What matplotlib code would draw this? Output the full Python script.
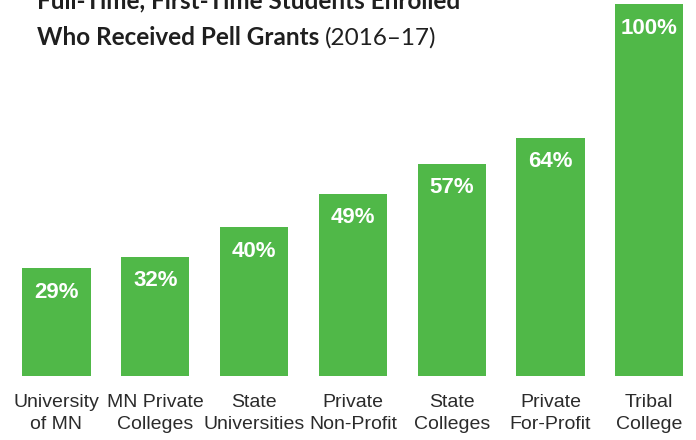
import matplotlib
matplotlib.use("Agg")
from matplotlib import pyplot as plt
import numpy as np

# Chart data
categories = ["University\nof MN", "MN Private\nColleges", "State\nUniversities",
              "Private\nNon-Profit", "State\nColleges", "Private\nFor-Profit",
              "Tribal\nCollege"]
pell_pct = [29, 32, 40, 49, 57, 64, 100]
value_labels = ["29%", "32%", "40%", "49%", "57%", "64%", "100%"]

title_line1 = "Full-Time, First-Time Students Enrolled"
title_bold = "Who Received Pell Grants "
title_normal = "(2016\u201317)"

green = "#50b848"
sans = ["Liberation Sans", "DejaVu Sans"]

fig = plt.figure(figsize=(6.96, 4.4), dpi=100)
W, H = 696, 440
# axes spans full width; bars positioned via data limits
ax = fig.add_axes([0, 1 - 376 / H, 1, (376 - 4) / H])
x = np.arange(len(categories))
ax.bar(x, pell_pct, width=0.69, color=green)
ax.set_xlim(-56.5 / 98.8, (696 - 56.5) / 98.8)
ax.set_ylim(0, 100)
ax.axis("off")

for xi, v, lab in zip(x, pell_pct, value_labels):
    ax.annotate(lab, (xi, v), xytext=(0, -24 * 72 / 100), textcoords="offset points",
                ha="center", va="center", color="white", fontsize=16,
                fontweight="bold", family=sans)

for xi, cat in zip(x, categories):
    ax.annotate(cat, (xi, 0), xytext=(0, -18 * 72 / 100), textcoords="offset points",
                ha="center", va="top", color="#2b2b2b", fontsize=14,
                family=sans, linespacing=1.36, annotation_clip=False)

# title, partly cut off at top
tfam = ["Lato", "DejaVu Sans"]
fig.text(37 / W, 1 - 8 / H, title_line1, ha="left", va="baseline",
         fontsize=17.5, fontweight="bold", color="#1f1f1f", family=tfam)
t1 = fig.text(37 / W, 1 - 45 / H, title_bold, ha="left", va="baseline",
              fontsize=17.5, fontweight="bold", color="#1f1f1f", family=tfam)
fig.canvas.draw()
bb = t1.get_window_extent()
fig.text(bb.x1 / W, 1 - 45 / H, title_normal, ha="left", va="baseline",
         fontsize=17.5, color="#1f1f1f", family=tfam)

fig.savefig("out.png", dpi=100)
